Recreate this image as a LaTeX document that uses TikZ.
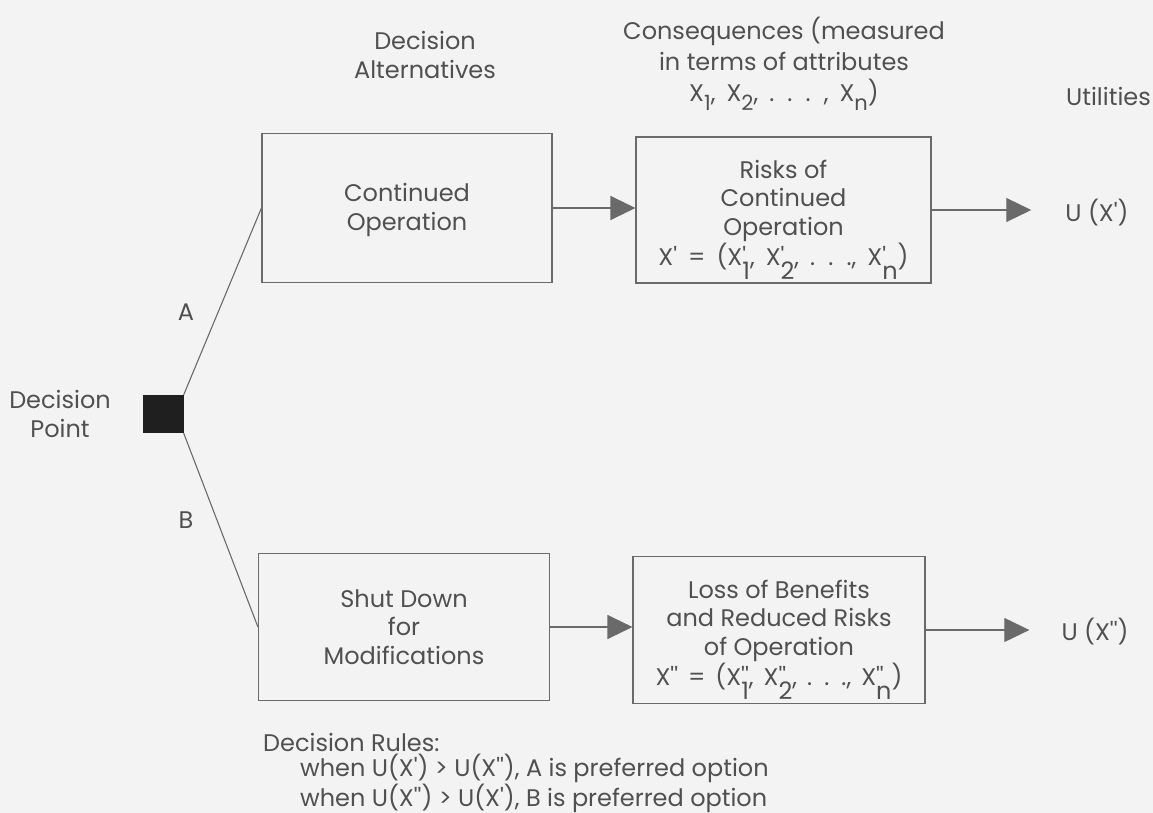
\documentclass[tikz,border=0pt]{standalone}
\usepackage{fontspec}
\newfontfamily\gfont{Poppins}
\usetikzlibrary{arrows.meta}
\definecolor{ink}{HTML}{505050}
\definecolor{paper}{HTML}{F3F3F3}
\definecolor{rule}{HTML}{6A6A6A}
% attribute with prime(s) over a deeply lowered full-size index
\newcommand\attr[2]{X\rlap{#1}\raisebox{-14pt}[0pt][0pt]{#2}}
% lowered index used in the heading
\newcommand\hsub[1]{\raisebox{-9pt}{\fontsize{21}{21}\selectfont #1}}
\begin{document}
\begin{tikzpicture}[x=1pt,y=-1pt,
  every node/.style={font=\gfont\fontsize{24}{28.5}\selectfont, text=ink},
  txt/.style={align=center, inner sep=0pt},
  stagebox/.style={draw=rule, line width=1.1pt, align=center, inner sep=0pt},
  link/.style={draw=rule, line width=1.1pt},
  flow/.style={link, -{Triangle[length=25pt,width=24pt]}},
]
\fill[paper] (0,0) rectangle (1153,813);
\useasboundingbox (0,0) rectangle (1153,813);

% column headings
\node[txt] (hAlt) at (425,55) {Decision\\Alternatives};
\node[txt, font=\gfont\fontsize{24}{31}\selectfont] (hCon) at (784,64)
  {Consequences (measured\\in terms of attributes\\
   {\spaceskip=11pt X\hsub{1}, X\hsub{2}, . . . , X\hsub{n})}};
\node[txt, anchor=east] (hUt) at (1151,96) {Utilities};

% decision point
\node[txt] (dp) at (60,414) {Decision\\Point};
\node[fill=black!88, minimum width=41pt, minimum height=38pt, inner sep=0pt] (sq) at (163,414) {};

% alternatives
\node[stagebox, minimum width=290pt, minimum height=149pt] (cont) at (407,208) {\rule{0pt}{22pt}Continued\\Operation};
\node[stagebox, minimum width=291pt, minimum height=147pt] (shut) at (404,627) {Shut Down\\for\\Modifications};

% consequences
\node[stagebox, minimum width=295pt, minimum height=146pt] (risk) at (783.5,210)
  {\rule{0pt}{28pt}Risks of\\Continued\\Operation\\
   {\spaceskip=11pt X' = (\attr{'}{1}, \attr{'}{2}, . . ., \attr{'}{n})}};
\node[stagebox, minimum width=292pt, minimum height=147pt] (loss) at (779,630)
  {\rule{0pt}{28pt}Loss of Benefits\\and Reduced Risks\\of Operation\\
   {\spaceskip=10pt X'' = (\attr{''}{1}, \attr{''}{2}, . . ., \attr{''}{n})}};

% utilities
\node[txt] (ua) at (1097,213) {U (X')};
\node[txt] (ub) at (1095,632) {U (X'')};

% branch labels
\node[txt] (la) at (186,312) {A};
\node[txt] (lb) at (186,520) {B};

% connectors
\draw[link] (sq.north east) -- (cont.west);
\draw[link] (sq.south east) -- (shut.west);
\draw[flow] (cont.east) -- (cont.east -| risk.west);
\draw[flow] (shut.east) -- (shut.east -| loss.west);
\draw[flow, shorten >=34pt] (risk.east) -- (risk.east -| ua.west);
\draw[flow, shorten >=32pt] (loss.east) -- (loss.east -| ub.west);

% decision rules
\node[txt, align=left, anchor=north west, font=\gfont\fontsize{24}{25.5}\selectfont] (rules) at (263,733)
  {Decision Rules:\\
   \hspace*{37pt}when U(X') > U(X''), A is preferred option\\
   \hspace*{37pt}when U(X'') > U(X'), B is preferred option};
\end{tikzpicture}
\end{document}
